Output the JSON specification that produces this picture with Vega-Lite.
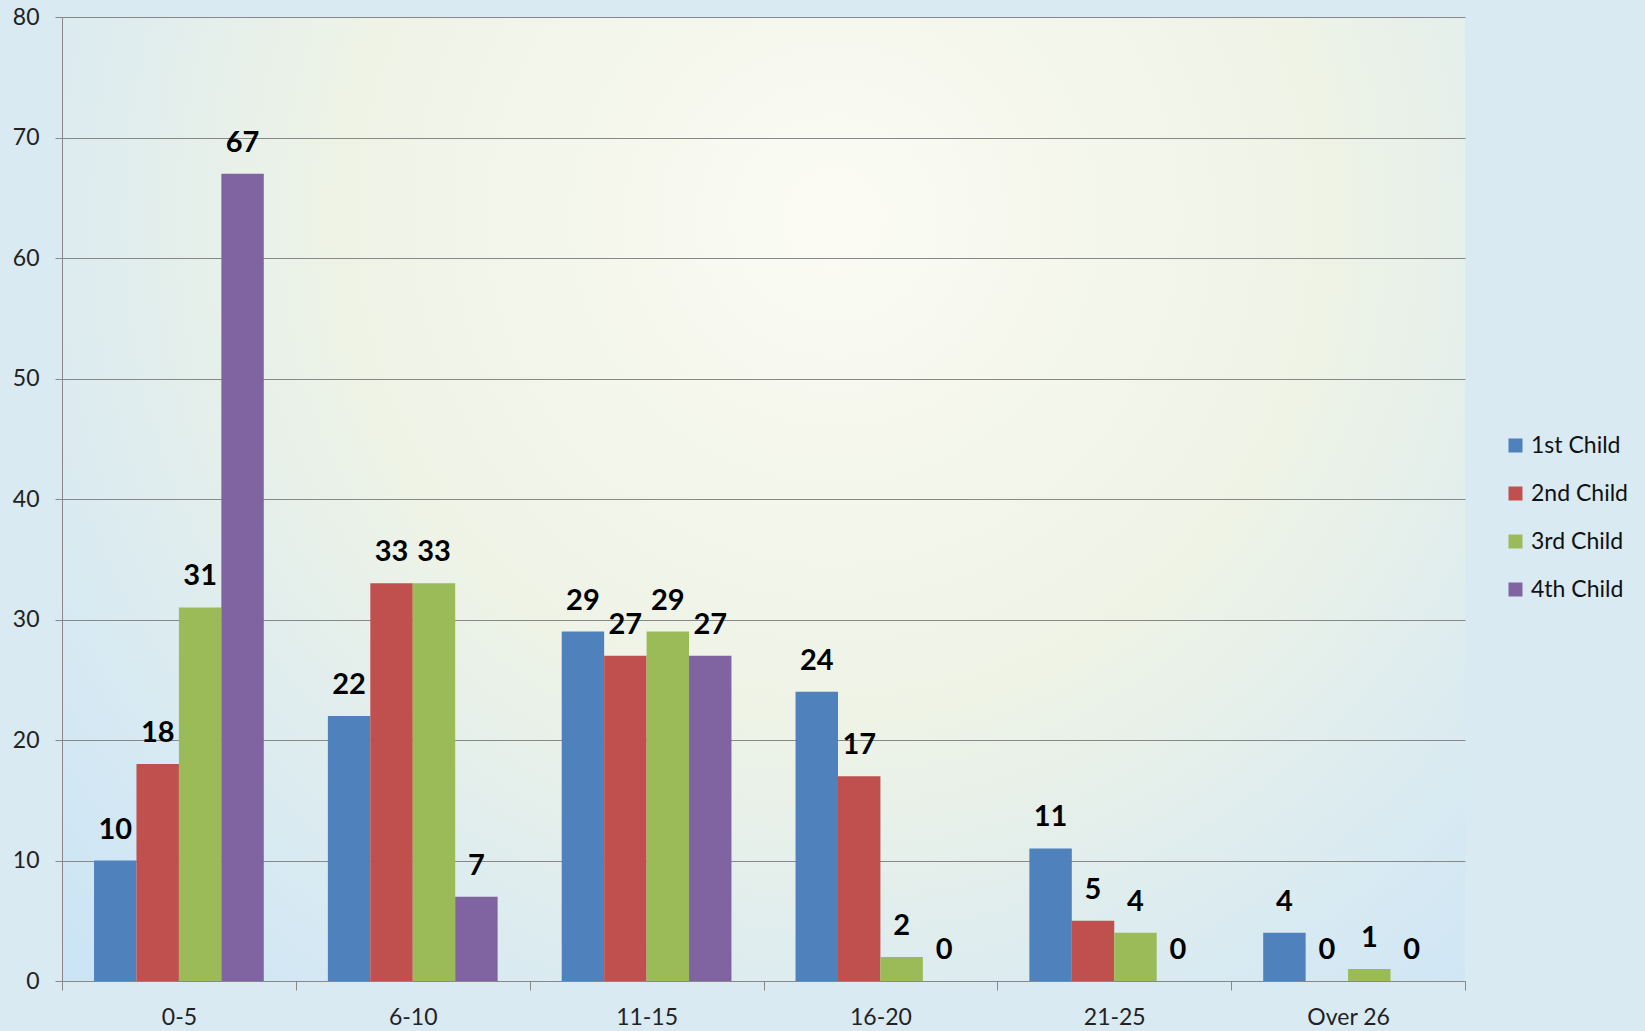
{
  "$schema": "https://vega.github.io/schema/vega-lite/v6.json",
  "autosize": "none",
  "width": 1403,
  "height": 964,
  "padding": {"left": 62, "top": 17, "right": 180, "bottom": 50},
  "background": "#d9eaf3",
  "data": {
    "values": [
      {"age": "0-5", "child": "1st Child", "count": 10},
      {"age": "0-5", "child": "2nd Child", "count": 18},
      {"age": "0-5", "child": "3rd Child", "count": 31},
      {"age": "0-5", "child": "4th Child", "count": 67},
      {"age": "6-10", "child": "1st Child", "count": 22},
      {"age": "6-10", "child": "2nd Child", "count": 33},
      {"age": "6-10", "child": "3rd Child", "count": 33},
      {"age": "6-10", "child": "4th Child", "count": 7},
      {"age": "11-15", "child": "1st Child", "count": 29},
      {"age": "11-15", "child": "2nd Child", "count": 27},
      {"age": "11-15", "child": "3rd Child", "count": 29},
      {"age": "11-15", "child": "4th Child", "count": 27},
      {"age": "16-20", "child": "1st Child", "count": 24},
      {"age": "16-20", "child": "2nd Child", "count": 17},
      {"age": "16-20", "child": "3rd Child", "count": 2},
      {"age": "16-20", "child": "4th Child", "count": 0},
      {"age": "21-25", "child": "1st Child", "count": 11},
      {"age": "21-25", "child": "2nd Child", "count": 5},
      {"age": "21-25", "child": "3rd Child", "count": 4},
      {"age": "21-25", "child": "4th Child", "count": 0},
      {"age": "Over 26", "child": "1st Child", "count": 4},
      {"age": "Over 26", "child": "2nd Child", "count": 0},
      {"age": "Over 26", "child": "3rd Child", "count": 1},
      {"age": "Over 26", "child": "4th Child", "count": 0}
    ]
  },
  "encoding": {
    "x": {
      "field": "age",
      "type": "nominal",
      "sort": ["0-5", "6-10", "11-15", "16-20", "21-25", "Over 26"],
      "scale": {"paddingInner": 0, "paddingOuter": 0},
      "axis": {
        "title": null,
        "labelAngle": 0,
        "labelFont": "Lato",
        "labelFontSize": 23,
        "labelColor": "#222222",
        "labelPadding": 16,
        "tickBand": "extent",
        "tickSize": 9,
        "tickColor": "#888888",
        "domainColor": "#888888",
        "grid": false
      }
    },
    "xOffset": {
      "field": "child",
      "type": "nominal",
      "sort": ["1st Child", "2nd Child", "3rd Child", "4th Child"],
      "scale": {"paddingInner": 0, "paddingOuter": 0.755}
    },
    "y": {
      "field": "count",
      "type": "quantitative",
      "scale": {"domain": [0, 80], "nice": false},
      "axis": {
        "title": null,
        "values": [0, 10, 20, 30, 40, 50, 60, 70, 80],
        "labelFont": "Lato",
        "labelFontSize": 23,
        "labelColor": "#222222",
        "labelPadding": 16,
        "tickSize": 7,
        "tickColor": "#888888",
        "domainColor": "#888888",
        "gridColor": "#888888",
        "gridOpacity": 1,
        "gridWidth": 1
      }
    }
  },
  "layer": [
    {
      "mark": {"type": "bar", "cornerRadius": 0},
      "encoding": {
        "color": {
          "field": "child",
          "type": "nominal",
          "sort": ["1st Child", "2nd Child", "3rd Child", "4th Child"],
          "scale": {
            "domain": ["1st Child", "2nd Child", "3rd Child", "4th Child"],
            "range": ["#4F81BD", "#C0504D", "#9BBB59", "#8064A2"]
          },
          "legend": {
            "title": null,
            "orient": "none",
            "legendX": 1442,
            "legendY": 417,
            "symbolType": "square",
            "symbolSize": 196,
            "symbolStrokeWidth": 0,
            "symbolOpacity": 1,
            "labelFont": "Lato",
            "labelFontSize": 23,
            "labelColor": "#111111",
            "labelOffset": 4,
            "rowPadding": 24
          }
        }
      }
    },
    {
      "mark": {
        "type": "text",
        "font": "Lato",
        "fontSize": 29,
        "fontWeight": "bold",
        "color": "#000000",
        "baseline": "alphabetic",
        "dy": -22
      },
      "encoding": {
        "text": {"field": "count", "type": "quantitative"}
      }
    }
  ],
  "config": {
    "view": {
      "stroke": null,
      "fill": {
        "gradient": "radial",
        "x1": 0.55, "y1": 0.3, "r1": 0,
        "x2": 0.55, "y2": 0.3, "r2": 0.8,
        "stops": [
          {"offset": 0, "color": "#fbfbf3"},
          {"offset": 0.45, "color": "#eef3e6"},
          {"offset": 0.78, "color": "#d6e9f3"},
          {"offset": 1, "color": "#c8e3f6"}
        ]
      }
    }
  }
}
